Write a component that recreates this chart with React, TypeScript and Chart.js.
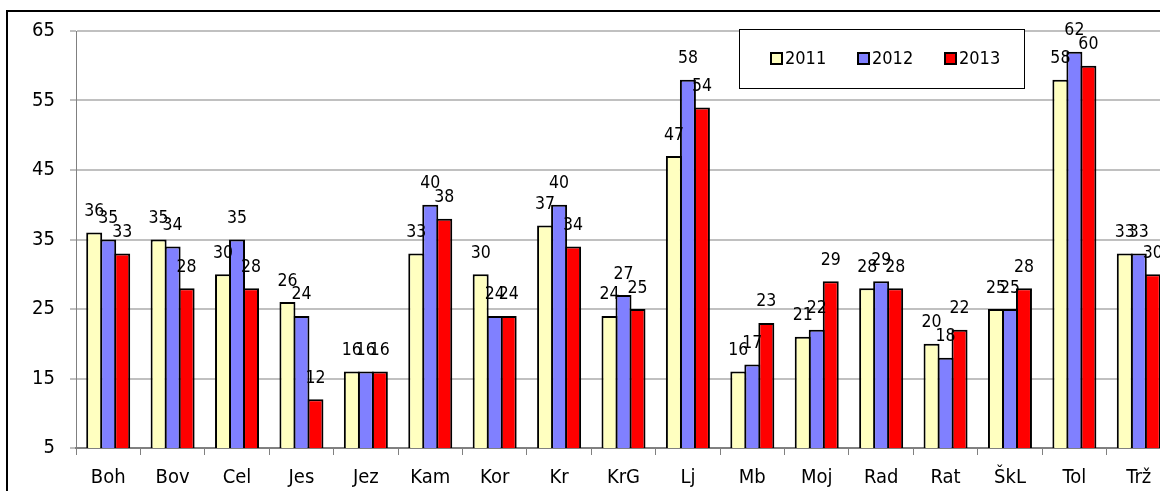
import React, { useEffect, useRef } from "react";
import { Chart, registerables } from "chart.js";

Chart.register(...registerables);

const categories = ["Boh", "Bov", "Cel", "Jes", "Jez", "Kam", "Kor", "Kr", "KrG", "Lj", "Mb", "Moj", "Rad", "Rat", "ŠkL", "Tol", "Trž"];
const series2011 = [36, 35, 30, 26, 16, 33, 30, 37, 24, 47, 16, 21, 28, 20, 25, 58, 33];
const series2012 = [35, 34, 35, 24, 16, 40, 24, 40, 27, 58, 17, 22, 29, 18, 25, 62, 33];
const series2013 = [33, 28, 28, 12, 16, 38, 24, 34, 25, 54, 23, 29, 28, 22, 28, 60, 30];
const seriesNames = ["2011", "2012", "2013"];
const seriesColors = ["#FFFFC0", "#8080FF", "#FF0000"];
const yMin = 5;
const yMax = 65;
const yStep = 10;

const FONT = "'DejaVu Sans Condensed', 'DejaVu Sans', Verdana, sans-serif";

const dataLabelPlugin = {
  id: "dataLabels",
  afterDatasetsDraw(chart: any) {
    const ctx = chart.ctx;
    ctx.save();
    ctx.font = `17.5px ${FONT}`;
    ctx.fillStyle = "#000";
    ctx.textAlign = "center";
    ctx.textBaseline = "middle";
    chart.data.datasets.forEach((ds: any, i: number) => {
      const meta = chart.getDatasetMeta(i);
      meta.data.forEach((bar: any, j: number) => {
        ctx.fillText(String(ds.data[j]), bar.x, bar.y - 21);
      });
    });
    ctx.restore();
  },
};

const legendBoxPlugin = {
  id: "legendBox",
  afterDraw(chart: any) {
    const ctx = chart.ctx;
    const bx = 739, by = 29, bw = 285, bh = 59;
    ctx.save();
    ctx.fillStyle = "#fff";
    ctx.fillRect(bx, by, bw, bh);
    ctx.strokeStyle = "#000";
    ctx.lineWidth = 1;
    ctx.strokeRect(bx + 0.5, by + 0.5, bw, bh);
    ctx.font = `18px ${FONT}`;
    ctx.textAlign = "left";
    ctx.textBaseline = "middle";
    seriesNames.forEach((name, i) => {
      const mx = 771 + i * 87;
      const my = 53;
      ctx.fillStyle = seriesColors[i];
      ctx.fillRect(mx, my, 11, 11);
      ctx.strokeStyle = "#000";
      ctx.lineWidth = 2;
      ctx.strokeRect(mx, my, 11, 11);
      ctx.fillStyle = "#000";
      ctx.fillText(name, mx + 14, 59);
    });
    ctx.restore();
  },
};

export default function App() {
  const canvasRef = useRef<HTMLCanvasElement | null>(null);

  useEffect(() => {
    if (!canvasRef.current) return;
    const allSeries = [series2011, series2012, series2013];
    const chart = new Chart(canvasRef.current, {
      type: "bar",
      data: {
        labels: categories,
        datasets: allSeries.map((d, i) => ({
          label: seriesNames[i],
          data: d,
          backgroundColor: seriesColors[i],
          borderColor: "#000",
          borderWidth: 2,
          borderSkipped: false,
          categoryPercentage: 0.652,
          barPercentage: 1.143,
        })),
      },
      options: {
        responsive: false,
        animation: false,
        devicePixelRatio: 1,
        layout: { padding: { left: 0, right: 29, top: 31, bottom: 0 } },
        plugins: {
          legend: { display: false },
          tooltip: { enabled: false },
        },
        scales: {
          x: {
            grid: {
              display: true,
              drawOnChartArea: false,
              drawTicks: true,
              tickLength: 7,
              tickColor: "#808080",
              tickWidth: 1,
              offset: true,
            },
            border: { color: "#808080", width: 2 },
            ticks: {
              color: "#000",
              font: { family: FONT, size: 20 },
              autoSkip: false,
              maxRotation: 0,
              padding: 11,
            },
            afterFit: (scale: any) => {
              scale.height = 43;
            },
          },
          y: {
            min: yMin,
            max: yMax,
            grid: {
              color: "#c0c0c0",
              lineWidth: 2,
              drawTicks: true,
              tickLength: 6,
              tickColor: "#808080",
              tickWidth: 1,
            },
            border: { color: "#808080", width: 1 },
            ticks: {
              stepSize: yStep,
              color: "#000",
              font: { family: FONT, size: 20 },
              padding: 15,
            },
            afterFit: (scale: any) => {
              scale.width = 76;
            },
          },
        },
      },
      plugins: [dataLabelPlugin, legendBoxPlugin],
    });
    return () => chart.destroy();
  }, []);

  return (
    <div
      style={{
        position: "fixed",
        left: 0,
        top: 0,
        width: 1160,
        height: 491,
        overflow: "hidden",
        background: "#fff",
      }}
    >
      <div
        style={{
          position: "absolute",
          left: 6,
          top: 10,
          width: 1300,
          height: 600,
          border: "2px solid #000",
          boxSizing: "border-box",
        }}
      />
      <canvas
        ref={canvasRef}
        width={1200}
        height={491}
        style={{ position: "absolute", left: 0, top: 0, width: 1200, height: 491 }}
      />
    </div>
  );
}
